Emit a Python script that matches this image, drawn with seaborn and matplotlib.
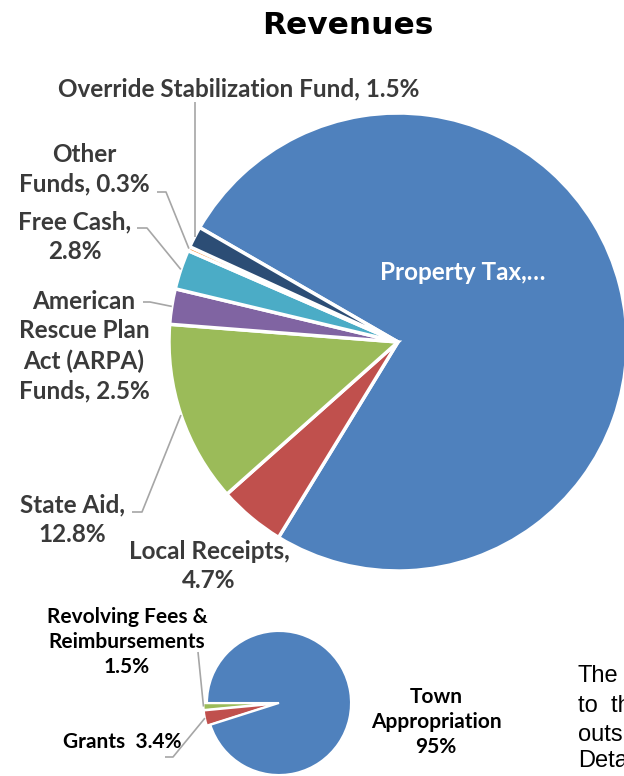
import matplotlib
matplotlib.use('Agg')
import matplotlib.pyplot as plt
import seaborn as sns
import numpy as np

# revenue breakdown (main pie), clockwise from the top-left
revenue_names = ["Property Tax", "Local Receipts", "State Aid",
                 "American Rescue Plan Act (ARPA) Funds", "Free Cash",
                 "Other Funds", "Override Stabilization Fund"]
revenue_pct = [75.4, 4.7, 12.8, 2.5, 2.8, 0.3, 1.5]
revenue_colors = ["#4F81BD", "#C0504D", "#9BBB59", "#8064A2",
                  "#4BACC6", "#F79646", "#2C4D75"]

# funding source (small pie)
source_names = ["Revolving Fees & Reimbursements", "Grants", "Town Appropriation"]
source_pct = [1.5, 3.4, 95]
source_colors = ["#9BBB59", "#C0504D", "#4F81BD"]

sns.set_theme(style="white")
plt.rcParams['font.family'] = ['Lato', 'DejaVu Sans']

W, H = 624, 776
fig = plt.figure(figsize=(W / 100, H / 100), dpi=100)
fig.patch.set_facecolor('white')


def pie_axes(cx, cy, r):
    ax = fig.add_axes([(cx - r) / W, (H - cy - r) / H, 2 * r / W, 2 * r / H])
    return ax


# main pie
MCX, MCY, MR = 398, 342, 229
ax_main = pie_axes(MCX, MCY, MR)
wedges, _ = ax_main.pie(revenue_pct, colors=revenue_colors, startangle=150,
                        counterclock=False,
                        wedgeprops=dict(edgecolor='white', linewidth=2.5, clip_on=False))
ax_main.set_xlim(-1, 1)
ax_main.set_ylim(-1, 1)
ax_main.set_aspect('auto')
ax_main.axis('off')

# small pie
SCX, SCY, SR = 279, 703, 72
ax_small = pie_axes(SCX, SCY, SR)
s_wedges, _ = ax_small.pie(source_pct, colors=source_colors, startangle=180,
                           explode=[0.05, 0.05, 0],
                           wedgeprops=dict(edgecolor='white', linewidth=1.5, clip_on=False))
ax_small.set_xlim(-1, 1)
ax_small.set_ylim(-1, 1)
ax_small.set_aspect('auto')
ax_small.axis('off')

# overlay in pixel coordinates for labels and leader lines
ov = fig.add_axes([0, 0, 1, 1], zorder=5)
ov.set_xlim(0, W)
ov.set_ylim(H, 0)
ov.axis('off')
ov.patch.set_alpha(0)


def edge_point(w, cx, cy, r):
    t = np.deg2rad((w.theta1 + w.theta2) / 2)
    x = w.center[0] + w.r * np.cos(t)
    y = w.center[1] + w.r * np.sin(t)
    return cx + r * x, cy - r * y


def leader(points, end):
    xs = [p[0] for p in points] + [end[0]]
    ys = [p[1] for p in points] + [end[1]]
    ov.plot(xs, ys, color='#A6A6A6', lw=1.2, solid_capstyle='butt')


gray = '#3A3A3A'
lab = dict(ha='center', va='center', fontsize=17.5, fontweight='bold',
           color=gray, linespacing=1.35)

fig.text(348 / W, 1 - 26 / H, "Revenues", ha='center', va='center',
         fontsize=22.5, fontweight='bold', family='DejaVu Sans', color='black')

ov.text(463, 272, "Property Tax,\u2026", ha='center', va='center', fontsize=17.5,
        fontweight='bold', color='white')
ov.text(239, 89, f"Override Stabilization Fund, {revenue_pct[6]}%", **lab)
ov.text(84, 169, f"Other\nFunds, {revenue_pct[5]}%", **lab)
ov.text(75, 237, f"Free Cash,\n{revenue_pct[4]}%", **lab)
ov.text(84, 346, f"American\nRescue Plan\nAct (ARPA)\nFunds, {revenue_pct[3]}%", **lab)
ov.text(72, 520, f"State Aid,\n{revenue_pct[2]}%", **lab)
ov.text(209, 566, f"Local Receipts,\n{revenue_pct[1]}%", **lab)

p = edge_point(wedges[6], MCX, MCY, MR)
leader([(p[0], 102)], p)
leader([(157, 192), (166, 192)], edge_point(wedges[5], MCX, MCY, MR))
leader([(137, 228), (147, 228)], edge_point(wedges[4], MCX, MCY, MR))
leader([(143, 302), (150, 302)], edge_point(wedges[3], MCX, MCY, MR))
leader([(132, 512), (142, 512)], edge_point(wedges[2], MCX, MCY, MR))

slab = dict(ha='center', va='center', fontsize=15, fontweight='bold',
            color='black', linespacing=1.32)
ov.text(127, 642, f"Revolving Fees &\nReimbursements\n{source_pct[0]}%", **slab)
ov.text(122, 742, f"Grants  {source_pct[1]}%", **slab)
ov.text(436, 722, f"Town\nAppropriation\n{source_pct[2]}%", **slab)
leader([(198, 652)], edge_point(s_wedges[0], SCX, SCY, SR))
leader([(165, 757), (173, 757)], edge_point(s_wedges[1], SCX, SCY, SR))

# page text that runs off the right edge in the reference
for txt, y in zip(["The", "to  th", "outs", "Deta"], [682, 712, 741, 767]):
    ov.text(578, y, txt, ha='left', va='baseline', fontsize=17,
            family='Liberation Sans', color='black')

fig.savefig('out.png', dpi=100)
